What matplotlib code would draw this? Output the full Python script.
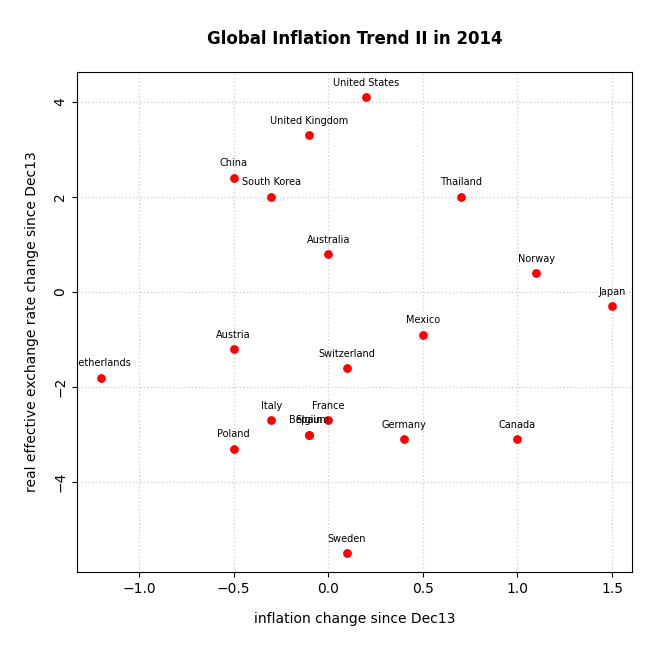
import matplotlib.pyplot as plt

countries = ["United States", "United Kingdom", "China", "South Korea", "Thailand",
             "Australia", "Norway", "Japan", "Mexico", "Austria", "Switzerland",
             "Netherlands", "Italy", "France", "Belgium", "Spain", "Germany",
             "Canada", "Poland", "Sweden"]
inflation = [0.2, -0.1, -0.5, -0.3, 0.7, 0.0, 1.1, 1.5, 0.5, -0.5, 0.1,
             -1.2, -0.3, 0.0, -0.1, -0.1, 0.4, 1.0, -0.5, 0.1]
reer = [4.1, 3.3, 2.4, 2.0, 2.0, 0.8, 0.4, -0.3, -0.9, -1.2, -1.6,
        -1.8, -2.7, -2.7, -3.0, -3.0, -3.1, -3.1, -3.3, -5.5]

fig = plt.figure(figsize=(6.72, 6.71), dpi=100)
ax = fig.add_axes([77/672, 99/671, 555/672, 500/671])
ax.grid(True, color="lightgray", linestyle=":", linewidth=1)
ax.set_axisbelow(True)
ax.scatter(inflation, reer, color="red", s=28, zorder=3)
for name, x, y in zip(countries, inflation, reer):
    ax.text(x, y + 0.2, name, fontsize=7, ha="center", va="bottom", clip_on=True)

ax.set_xlim(-1.328, 1.606)
ax.set_ylim(-5.89, 4.63)
ax.set_xticks([-1.0, -0.5, 0.0, 0.5, 1.0, 1.5])
ax.set_yticks([-4, -2, 0, 2, 4])
ax.tick_params(labelsize=10)
plt.setp(ax.get_yticklabels(), rotation=90, va="center")
ax.set_xlabel("inflation change since Dec13", fontsize=10, labelpad=12)
ax.set_ylabel("real effective exchange rate change since Dec13", fontsize=10, labelpad=10)
ax.set_title("Global Inflation Trend II in 2014", fontsize=12, fontweight="bold", pad=20)
fig.savefig("out.png")
